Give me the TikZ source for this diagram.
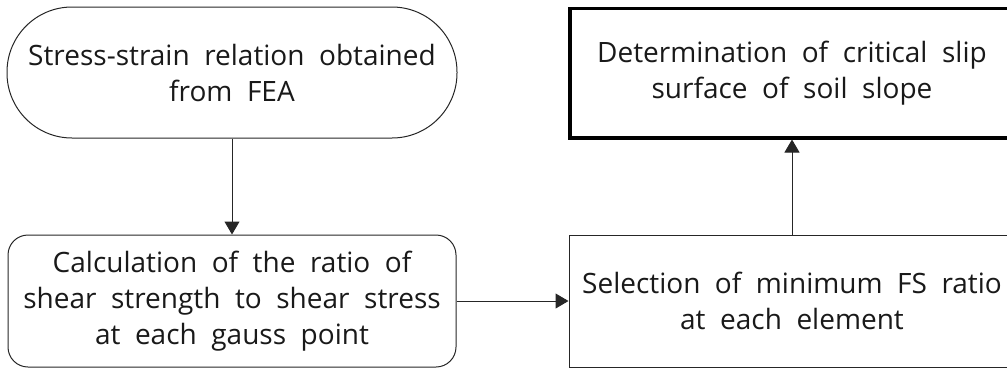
\documentclass[tikz,border=0pt]{standalone}
\usepackage{fontspec}
\setmainfont{Open Sans}[WordSpace=2]
\usetikzlibrary{arrows.meta}
\begin{document}
\begin{tikzpicture}[x=1pt,y=-1pt,
  txt/.style={align=center,font=\fontsize{28}{36}\selectfont,inner sep=0pt,text=black!90},
  thin/.style={draw=black!85,line width=1pt},
  conn/.style={draw=black!85,line width=1pt,-{Triangle[length=13pt,width=15pt]}}]
\useasboundingbox (0,0) rectangle (1007,370);
\clip (0,0) rectangle (1007,370);
\node[txt,thin,rounded corners=65pt,minimum width=450pt,minimum height=131pt] (a) at (232,72.5)
  {Stress-strain relation obtained\\from FEA};
\node[txt,draw=black,line width=3.5pt,minimum width=444pt,minimum height=129.5pt] (b) at (792,73)
  {Determination of critical slip\\surface of soil slope};
\node[txt,thin,rounded corners=20pt,minimum width=448pt,minimum height=132pt] (c) at (232,301)
  {Calculation of the ratio of\\shear strength to shear stress\\at each gauss point};
\node[txt,thin,minimum width=446pt,minimum height=132pt] (d) at (792,301)
  {Selection of minimum FS ratio\\at each element};
\draw[conn] (a.south) -- (c.north);
\draw[conn] (c.east) -- (d.west);
\draw[conn] (d.north) -- (b.south);
\end{tikzpicture}
\end{document}
